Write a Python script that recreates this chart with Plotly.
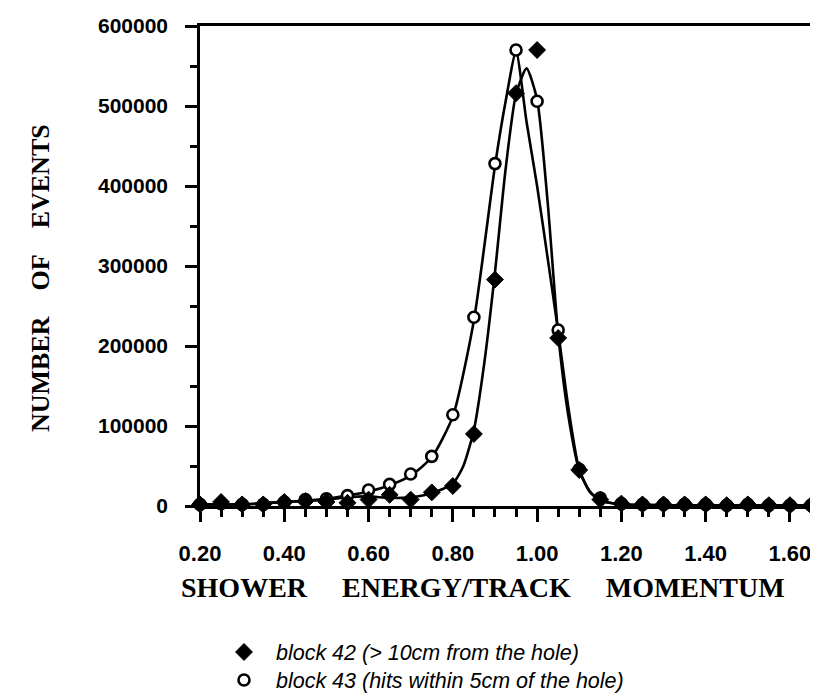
import plotly.graph_objects as go

# ---- data ----
x_pts = [0.20, 0.25, 0.30, 0.35, 0.40, 0.45, 0.50, 0.55, 0.60, 0.65,
         0.70, 0.75, 0.80, 0.85, 0.90, 0.95, 1.00, 1.05, 1.10, 1.15,
         1.20, 1.25, 1.30, 1.35, 1.40, 1.45, 1.50, 1.55, 1.60, 1.65]

block42 = [2000, 5000, 2000, 2000, 5000, 6000, 5000, 4000, 8000, 14000,
           8000, 17000, 25000, 90000, 283000, 516000, 570000, 210000, 45000, 8000,
           3000, 2000, 2000, 2000, 2000, 1000, 2000, 1000, 1000, 1000]

block43 = [2000, 3000, 2000, 2000, 5000, 8000, 9000, 13000, 20000, 27000,
           40000, 62000, 114000, 236000, 428000, 570000, 506000, 220000, 46000, 10000,
           3000, 2000, 2000, 2000, 2000, 1000, 2000, 1000, 1000, 1000]

# fitted curves
fit43_x = [0.20, 0.30, 0.40, 0.50, 0.55, 0.60, 0.65, 0.70, 0.75, 0.80,
           0.85, 0.90, 0.925, 0.95, 0.975, 1.00, 1.025, 1.05, 1.075, 1.10,
           1.125, 1.15, 1.20, 1.30, 1.40, 1.50, 1.65]
fit43_y = [2000, 2000, 5000, 9000, 13000, 18000, 26000, 38000, 61000, 112000,
           232000, 425000, 505000, 568000, 480000, 400000, 310000, 218000, 120000, 45000,
           18000, 7000, 2000, 1000, 1000, 1000, 1000]

fit42_x = [0.20, 0.30, 0.40, 0.50, 0.55, 0.60, 0.65, 0.70, 0.75, 0.80,
           0.825, 0.85, 0.875, 0.90, 0.925, 0.95, 0.975, 1.00, 1.025, 1.05,
           1.075, 1.10, 1.125, 1.15, 1.20, 1.30, 1.40, 1.50, 1.65]
fit42_y = [2000, 2000, 5000, 8000, 11000, 12000, 10000, 11000, 16000, 28000,
           50000, 95000, 180000, 292000, 420000, 515000, 547000, 508000, 380000, 215000,
           110000, 45000, 18000, 7000, 2000, 1000, 1000, 1000, 1000]

x_ticks = [0.20, 0.40, 0.60, 0.80, 1.00, 1.20, 1.40, 1.60]
x_tick_text = ["0.20", "0.40", "0.60", "0.80", "1.00", "1.20", "1.40", "1.60"]
y_ticks = [0, 100000, 200000, 300000, 400000, 500000, 600000]
y_tick_text = ["0", "100000", "200000", "300000", "400000", "500000", "600000"]

name42 = "\u00a0\u00a0block 42 (> 10cm from the hole)"
name43 = "\u00a0\u00a0block 43 (hits within 5cm of the hole)"

fig = go.Figure()

fig.add_trace(go.Scatter(x=fit43_x, y=fit43_y, mode="lines",
                         line=dict(color="black", width=2.6, shape="spline", smoothing=0.6),
                         showlegend=False, hoverinfo="skip", cliponaxis=False))
fig.add_trace(go.Scatter(x=fit42_x, y=fit42_y, mode="lines",
                         line=dict(color="black", width=2.6, shape="spline", smoothing=0.6),
                         showlegend=False, hoverinfo="skip", cliponaxis=False))

fig.add_trace(go.Scatter(x=x_pts, y=block43, mode="markers", name=name43,
                         marker=dict(symbol="circle", size=11, color="white",
                                     line=dict(color="black", width=2.6)),
                         cliponaxis=False, legend="legend2"))
fig.add_trace(go.Scatter(x=x_pts, y=block42, mode="markers", name=name42,
                         marker=dict(symbol="diamond", size=13, color="black",
                                     line=dict(color="black", width=1)),
                         cliponaxis=False, legend="legend"))

ytick_font = dict(family="Liberation Sans, Arial, sans-serif", size=21, color="black",
                  weight="bold")
xtick_font = dict(family="Liberation Sans, Arial, sans-serif", size=22, color="black",
                  weight="bold")
ytitle_font = dict(family="Liberation Serif, Times New Roman, serif", size=26, color="black")
xtitle_font = dict(family="Liberation Serif, Times New Roman, serif", size=28, color="black")

fig.update_xaxes(range=[0.2, 1.65], tickvals=x_ticks, ticktext=x_tick_text,
                 tickangle=0, ticklabelstandoff=13,
                 ticks="outside", ticklen=13, tickwidth=2.5, tickcolor="black",
                 minor=dict(dtick=0.05, tick0=0.2, ticks="outside", ticklen=8,
                            tickwidth=2.5, tickcolor="black"),
                 showline=True, linewidth=2.5, linecolor="black", mirror=True,
                 showgrid=False, zeroline=False, tickfont=xtick_font)
fig.update_yaxes(range=[0, 600000], tickvals=y_ticks, ticktext=y_tick_text,
                 ticklabelstandoff=13,
                 ticks="outside", ticklen=12, tickwidth=2.5, tickcolor="black",
                 minor=dict(dtick=50000, tick0=0, ticks="outside", ticklen=7,
                            tickwidth=2.5, tickcolor="black"),
                 showline=True, linewidth=2.5, linecolor="black", mirror=True,
                 showgrid=False, zeroline=False, tickfont=ytick_font)

legend_font = dict(family="Liberation Sans, Arial, sans-serif", size=21.5, color="black",
                   style="italic")

# page has an 8px body margin; figure is drawn 8px in from the top-left
PW, PH = 611.0, 480.0
fig.update_layout(
    width=810, height=688,
    margin=dict(l=192, r=7, t=18, b=190, autoexpand=False),
    paper_bgcolor="white", plot_bgcolor="white",
    legend=dict(x=(224 - 200) / PW, y=-(652 - 506) / PH,
                xanchor="left", yanchor="middle", font=legend_font,
                bgcolor="rgba(0,0,0,0)"),
    legend2=dict(x=(224 - 200) / PW, y=-(680 - 506) / PH,
                 xanchor="left", yanchor="middle", font=legend_font,
                 bgcolor="rgba(0,0,0,0)"),
    annotations=[
        dict(text="<b>SHOWER\u00a0\u00a0\u00a0\u00a0\u00a0ENERGY/TRACK\u00a0\u00a0\u00a0\u00a0\u00a0MOMENTUM</b>",
             xref="paper", yref="paper", x=(483 - 200) / PW, y=-(587 - 506) / PH,
             xanchor="center", yanchor="middle", showarrow=False, font=xtitle_font),
        dict(text="<b>NUMBER\u00a0\u00a0\u00a0\u00a0OF\u00a0\u00a0\u00a0\u00a0EVENTS</b>",
             xref="paper", yref="paper", x=-(200 - 40) / PW, y=(506 - 278) / PH,
             xanchor="center", yanchor="middle", showarrow=False, textangle=-90,
             font=ytitle_font),
    ],
)

fig.write_html("out.html")
